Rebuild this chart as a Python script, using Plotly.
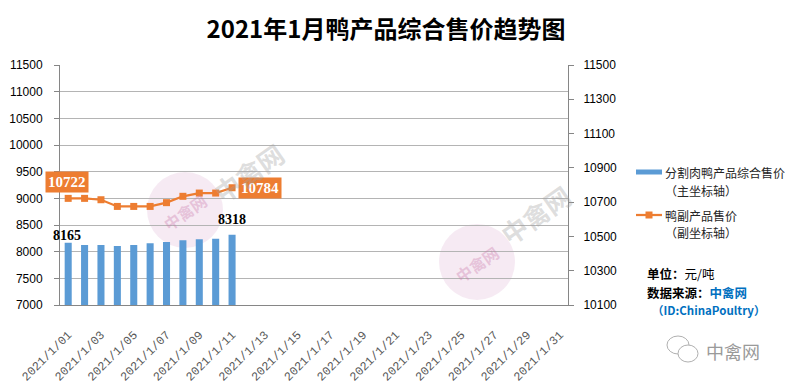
import plotly.graph_objects as go

# ---------------- data ----------------
dates = ["2021/1/01", "2021/1/02", "2021/1/03", "2021/1/04", "2021/1/05", "2021/1/06",
         "2021/1/07", "2021/1/08", "2021/1/09", "2021/1/10", "2021/1/11", "2021/1/12",
         "2021/1/13", "2021/1/14", "2021/1/15", "2021/1/16", "2021/1/17", "2021/1/18",
         "2021/1/19", "2021/1/20", "2021/1/21", "2021/1/22", "2021/1/23", "2021/1/24",
         "2021/1/25", "2021/1/26", "2021/1/27", "2021/1/28", "2021/1/29", "2021/1/30",
         "2021/1/31"]
tick_labels = ["2021/1/01", "2021/1/03", "2021/1/05", "2021/1/07", "2021/1/09", "2021/1/11",
               "2021/1/13", "2021/1/15", "2021/1/17", "2021/1/19", "2021/1/21", "2021/1/23",
               "2021/1/25", "2021/1/27", "2021/1/29", "2021/1/31"]
meat_price = [8165, 8125, 8125, 8105, 8125, 8160, 8180, 8215, 8235, 8240, 8318]
byproduct_price = [10722, 10722, 10714, 10675, 10675, 10675, 10697, 10734, 10753, 10753, 10784]
meat_name = "分割肉鸭产品综合售价"
by_name = "鸭副产品售价"
title_text = "2021年1月鸭产品综合售价趋势图"

# ---------------- geometry helpers ----------------
W, H = 787, 386
L, R, T, B = 60, 568, 65, 305


def px(x):
    return (x - L) / (R - L)


def py(y):
    return (B - y) / (B - T)


BLUE = "#5B9BD5"
ORANGE = "#ED7D31"
CJK = "Noto Sans CJK SC"

fig = go.Figure()
fig.add_trace(go.Bar(
    x=dates[:len(meat_price)], y=meat_price, name=meat_name,
    marker=dict(color=BLUE, line=dict(width=0)), width=0.43, showlegend=False))
fig.add_trace(go.Scatter(
    x=dates[:len(byproduct_price)], y=byproduct_price, name=by_name, yaxis="y2",
    mode="lines+markers", line=dict(color=ORANGE, width=2.25),
    marker=dict(symbol="square", size=7, color=ORANGE), showlegend=False))

ann = []
# bar labels (first & last)
ann.append(dict(x=dates[0], y=meat_price[0], xref="x", yref="y", text=f"<b>{meat_price[0]}</b>",
                showarrow=False, yanchor="middle", yshift=7, xshift=-1,
                font=dict(family="Liberation Serif", size=14, color="black")))
ann.append(dict(x=dates[len(meat_price) - 1], y=meat_price[-1], xref="x", yref="y",
                text=f"<b>{meat_price[-1]}</b>", showarrow=False, yanchor="middle", yshift=15,
                font=dict(family="Liberation Serif", size=14, color="black")))
# line labels (first & last)
ann.append(dict(x=dates[0], y=byproduct_price[0], xref="x", yref="y2",
                text=f"<b>{byproduct_price[0]}</b>", showarrow=False, yanchor="middle",
                yshift=16, xshift=-1, bgcolor=ORANGE, borderpad=2,
                font=dict(family="Liberation Serif", size=15, color="white")))
ann.append(dict(x=dates[len(byproduct_price) - 1], y=byproduct_price[-1], xref="x", yref="y2",
                text=f"<b>{byproduct_price[-1]}</b>", showarrow=False, yanchor="middle",
                yshift=0, xshift=28, bgcolor=ORANGE, borderpad=2,
                font=dict(family="Liberation Serif", size=15, color="white")))


def ptext(x, y, text, size=12, color="#262626", anchor="left", angle=0, family=CJK):
    return dict(x=px(x), y=py(y), xref="paper", yref="paper", text=text, showarrow=False,
                xanchor=anchor, yanchor="middle", textangle=angle,
                font=dict(family=family, size=size, color=color))


# legend texts
ann.append(ptext(663, 172, meat_name))
ann.append(ptext(663, 190, "（主坐标轴）"))
ann.append(ptext(663, 215, by_name))
ann.append(ptext(663, 232, "（副坐标轴）"))
ann.append(ptext(645, 273, "<b>单位：</b>元/吨", size=12.5, color="black"))
ann.append(ptext(645, 292, "<b>数据来源：</b><b><span style='color:#0070C0'>中禽网</span></b>",
                 size=12.5, color="black"))
ann.append(ptext(650, 310, "<b>（ID:ChinaPoultry）</b>", size=11.5, color="#0070C0"))
ann.append(ptext(704, 351, "中禽网", size=18, color="#9a9a9a"))

# watermarks
ann.append(ptext(185, 212, "<b>中禽网</b>", size=16, color="rgba(200,120,170,0.35)",
                 anchor="center", angle=-35))
ann.append(ptext(477, 264, "<b>中禽网</b>", size=16, color="rgba(200,120,170,0.35)",
                 anchor="center", angle=-35))
ann.append(ptext(248, 172, "<b>中禽网</b>", size=26, color="rgba(160,160,160,0.35)",
                 anchor="center", angle=-35))
ann.append(ptext(535, 214, "<b>中禽网</b>", size=26, color="rgba(160,160,160,0.35)",
                 anchor="center", angle=-35))

shapes = []
# legend swatches
shapes.append(dict(type="line", xref="paper", yref="paper", x0=px(636), x1=px(662),
                   y0=py(172), y1=py(172), line=dict(color=BLUE, width=5)))
shapes.append(dict(type="line", xref="paper", yref="paper", x0=px(636), x1=px(662),
                   y0=py(215), y1=py(215), line=dict(color=ORANGE, width=2.25)))
shapes.append(dict(type="rect", xref="paper", yref="paper", x0=px(645.5), x1=px(652.5),
                   y0=py(218.5), y1=py(211.5), fillcolor=ORANGE, line=dict(width=0)))
# watermark circles
for cx, cy, r in [(185, 210, 38), (477, 262, 38)]:
    shapes.append(dict(type="circle", xref="paper", yref="paper", layer="below",
                       x0=px(cx - r), x1=px(cx + r), y0=py(cy + r), y1=py(cy - r),
                       fillcolor="rgba(225,185,215,0.30)", line=dict(width=0)))
# wechat-like icon
shapes.append(dict(type="circle", xref="paper", yref="paper", x0=px(667), x1=px(689),
                   y0=py(354), y1=py(336), line=dict(color="#b0b0b0", width=1)))
shapes.append(dict(type="circle", xref="paper", yref="paper", x0=px(678), x1=px(698),
                   y0=py(362), y1=py(345), fillcolor="white", line=dict(color="#b0b0b0", width=1)))

fig.update_layout(
    width=W, height=H, autosize=False,
    margin=dict(l=L, r=W - R, t=T, b=H - B, pad=0, autoexpand=False),
    plot_bgcolor="white", paper_bgcolor="white",
    title=dict(text=f"<b>{title_text}</b>", x=386 / W, xanchor="center", xref="container",
               y=1 - 30 / H, yanchor="middle", yref="container",
               font=dict(family=CJK, size=24, color="black")),
    xaxis=dict(type="category", categoryorder="array", categoryarray=dates,
               range=[-0.5, len(dates) - 0.5], tickmode="array", tickvals=tick_labels,
               ticktext=tick_labels, tickangle=-45, showline=True, linecolor="#868686",
               linewidth=1, showgrid=False, ticks="", ticklabelstandoff=17, automargin=False,
               tickfont=dict(family="Liberation Mono", size=12, color="#595959")),
    yaxis=dict(range=[7000, 11500], tick0=7000, dtick=500, showgrid=True, tickformat="d",
               gridcolor="#b4b4b4", gridwidth=1, showline=True, linecolor="#868686",
               ticks="outside", ticklen=5, tickcolor="#868686", zeroline=False,
               ticklabelstandoff=9, automargin=False,
               tickfont=dict(family="Liberation Sans", size=12, color="black")),
    yaxis2=dict(overlaying="y", side="right", range=[10100, 11500], tick0=10100, dtick=200,
                tickformat="d", showgrid=False, showline=True, linecolor="#868686",
                ticks="outside", ticklen=5, tickcolor="#868686", zeroline=False,
                ticklabelstandoff=7, automargin=False,
                tickfont=dict(family="Liberation Sans", size=12, color="black")),
    annotations=ann, shapes=shapes, hovermode="closest",
)

fig.write_html("out.html", post_script="document.body.style.margin='0px';",
               config={"displayModeBar": False})
